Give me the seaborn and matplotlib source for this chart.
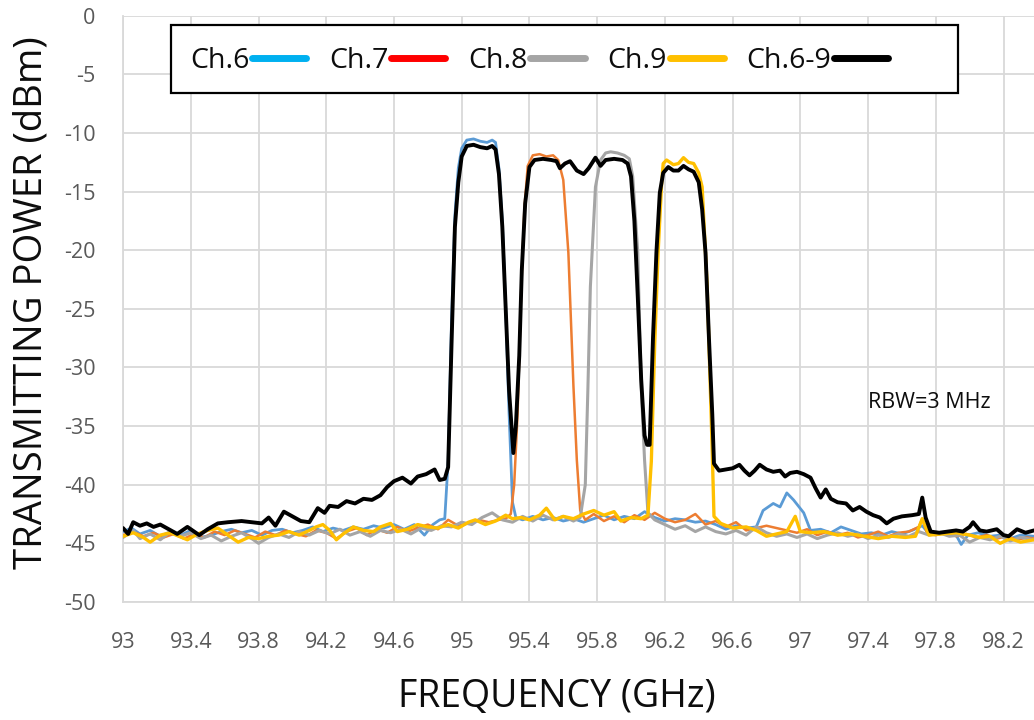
import matplotlib
matplotlib.use("Agg")
import matplotlib.pyplot as plt
from matplotlib.lines import Line2D
from matplotlib.patches import Rectangle
import seaborn as sns
import pandas as pd

# ---- spectrum traces (frequency in GHz, power in dBm) ----
ch6_freq = [93.00, 93.05, 93.10, 93.16, 93.22, 93.28, 93.34, 93.40, 93.46, 93.52, 93.58, 93.64,
            93.70, 93.76, 93.82, 93.88, 93.94, 94.00, 94.06, 94.12, 94.18, 94.24, 94.30, 94.36,
            94.42, 94.48, 94.54, 94.60, 94.66, 94.72, 94.78, 94.83, 94.87, 94.90, 94.92, 94.94,
            94.96, 94.98, 95.00, 95.03, 95.07, 95.11, 95.15, 95.18, 95.20, 95.22, 95.24, 95.26,
            95.28, 95.30, 95.32, 95.36, 95.42, 95.48, 95.54, 95.60, 95.66, 95.72, 95.78, 95.84,
            95.90, 95.96, 96.02, 96.08, 96.14, 96.20, 96.26, 96.32, 96.38, 96.44, 96.50, 96.56,
            96.62, 96.68, 96.74, 96.78, 96.84, 96.88, 96.92, 96.96, 97.02, 97.06, 97.12, 97.18,
            97.24, 97.30, 97.36, 97.42, 97.48, 97.54, 97.60, 97.66, 97.72, 97.76, 97.82, 97.88,
            97.92, 97.95, 97.99, 98.05, 98.12, 98.18, 98.24, 98.30, 98.38]
ch6_power = [-44.0, -43.7, -44.2, -43.9, -44.4, -44.0, -44.3, -43.9, -44.5, -44.3, -44.0, -43.8,
             -44.1, -43.9, -44.3, -43.9, -43.8, -44.1, -43.9, -43.6, -44.0, -43.7, -43.9, -43.6,
             -43.8, -43.5, -43.7, -43.4, -43.8, -43.4, -44.3, -43.4, -43.0, -42.9, -38.0, -26.0,
             -17.0, -13.0, -11.3, -10.6, -10.5, -10.7, -10.8, -10.6, -10.8, -13.0, -17.5, -25.0,
             -34.0, -41.5, -42.8, -43.0, -42.7, -43.0, -42.8, -43.1, -42.9, -43.2, -42.9, -42.6,
             -43.0, -42.7, -42.9, -42.3, -42.8, -43.1, -42.9, -43.0, -43.2, -43.1, -43.4, -43.8,
             -43.5, -43.7, -43.6, -42.2, -41.6, -41.9, -40.7, -41.3, -42.4, -43.9, -43.8, -44.1,
             -43.6, -43.9, -44.2, -44.1, -44.3, -44.0, -44.2, -43.9, -43.5, -44.2, -44.1, -44.0,
             -44.3, -45.1, -44.3, -44.1, -44.4, -44.3, -44.6, -44.3, -44.4]

ch7_freq = [93.00, 93.06, 93.12, 93.18, 93.24, 93.30, 93.36, 93.42, 93.48, 93.54, 93.60, 93.66,
            93.72, 93.78, 93.84, 93.90, 93.96, 94.02, 94.08, 94.14, 94.20, 94.26, 94.32, 94.38,
            94.44, 94.50, 94.56, 94.62, 94.68, 94.74, 94.80, 94.86, 94.92, 94.98, 95.04, 95.10,
            95.16, 95.22, 95.26, 95.29, 95.31, 95.33, 95.35, 95.37, 95.39, 95.42, 95.46, 95.50,
            95.54, 95.57, 95.60, 95.63, 95.66, 95.68, 95.70, 95.73, 95.78, 95.84, 95.90, 95.96,
            96.02, 96.08, 96.14, 96.20, 96.26, 96.32, 96.38, 96.44, 96.50, 96.56, 96.62, 96.68,
            96.74, 96.80, 96.86, 96.92, 96.98, 97.04, 97.10, 97.16, 97.22, 97.28, 97.34, 97.40,
            97.46, 97.52, 97.58, 97.64, 97.70, 97.72, 97.75, 97.80, 97.86, 97.92, 97.98, 98.04,
            98.10, 98.16, 98.22, 98.28, 98.34, 98.38]
ch7_power = [-44.3, -44.0, -44.4, -44.1, -44.5, -44.2, -44.6, -44.2, -44.5, -44.0, -44.3, -43.9,
             -44.2, -44.5, -44.0, -44.3, -43.9, -44.2, -44.4, -43.9, -44.1, -44.6, -44.0, -43.7,
             -44.3, -43.8, -44.1, -43.6, -44.0, -43.7, -43.4, -43.8, -43.0, -43.5, -43.3, -43.0,
             -43.2, -43.0, -42.9, -42.5, -40.0, -34.0, -24.0, -16.5, -12.8, -11.9, -11.8, -12.0,
             -11.9, -12.3, -14.0, -20.2, -31.6, -37.9, -42.2, -43.0, -42.5, -43.1, -42.7, -43.2,
             -42.6, -43.0, -42.4, -42.9, -43.2, -43.0, -42.5, -43.4, -43.1, -43.6, -43.2, -43.9,
             -43.7, -43.5, -43.7, -43.9, -44.1, -43.8, -44.3, -44.0, -44.3, -44.1, -44.5, -44.3,
             -44.0, -44.4, -44.1, -44.0, -43.6, -42.9, -44.2, -44.3, -44.1, -44.4, -44.2, -44.5,
             -44.3, -44.6, -44.4, -44.7, -44.5, -44.6]

ch8_freq = [93.00, 93.06, 93.10, 93.16, 93.22, 93.28, 93.34, 93.40, 93.46, 93.52, 93.58, 93.64,
            93.70, 93.76, 93.80, 93.86, 93.92, 93.98, 94.04, 94.10, 94.16, 94.22, 94.28, 94.34,
            94.40, 94.46, 94.52, 94.58, 94.64, 94.70, 94.76, 94.82, 94.88, 94.94, 95.00, 95.06,
            95.12, 95.18, 95.24, 95.30, 95.36, 95.42, 95.48, 95.54, 95.60, 95.66, 95.70, 95.73,
            95.745, 95.76, 95.79, 95.82, 95.85, 95.88, 95.92, 95.96, 95.99, 96.01, 96.04, 96.06,
            96.08, 96.10, 96.14, 96.20, 96.26, 96.32, 96.38, 96.44, 96.50, 96.56, 96.62, 96.68,
            96.74, 96.80, 96.86, 96.92, 96.98, 97.04, 97.10, 97.16, 97.22, 97.28, 97.34, 97.40,
            97.46, 97.52, 97.58, 97.64, 97.70, 97.76, 97.82, 97.88, 97.94, 98.00, 98.06, 98.12,
            98.18, 98.24, 98.30, 98.38]
ch8_power = [-44.5, -43.9, -44.6, -44.2, -44.7, -44.0, -44.4, -44.1, -44.6, -44.3, -44.8, -44.4,
             -44.1, -44.6, -45.0, -44.5, -44.2, -44.5, -44.0, -44.3, -43.9, -44.2, -43.8, -44.3,
             -44.0, -44.4, -43.9, -44.1, -43.8, -44.2, -43.7, -43.9, -43.5, -43.6, -43.2, -43.4,
             -42.8, -42.4, -43.0, -43.2, -42.7, -43.1, -42.6, -43.0, -42.7, -43.1, -42.8, -40.0,
             -32.0, -23.1, -14.6, -12.3, -11.7, -11.6, -11.7, -11.9, -12.2, -13.7, -20.2, -31.6,
             -37.9, -42.4, -43.0, -43.4, -43.8, -43.5, -44.0, -43.6, -44.0, -44.2, -43.9, -44.3,
             -43.6, -44.1, -44.4, -44.2, -44.5, -44.2, -44.6, -44.3, -44.1, -44.4, -44.2, -44.6,
             -44.3, -44.5, -44.2, -44.4, -44.0, -44.3, -44.1, -44.4, -44.3, -44.9, -44.5, -44.7,
             -44.4, -44.8, -44.5, -44.7]

ch9_freq = [93.00, 93.06, 93.12, 93.16, 93.22, 93.28, 93.33, 93.38, 93.44, 93.50, 93.56, 93.62,
            93.68, 93.74, 93.80, 93.86, 93.92, 93.98, 94.04, 94.10, 94.14, 94.18, 94.22, 94.26,
            94.30, 94.36, 94.42, 94.48, 94.52, 94.58, 94.62, 94.68, 94.74, 94.80, 94.86, 94.92,
            94.98, 95.04, 95.08, 95.14, 95.20, 95.26, 95.30, 95.35, 95.40, 95.46, 95.50, 95.55,
            95.60, 95.66, 95.72, 95.78, 95.84, 95.90, 95.94, 96.00, 96.06, 96.10, 96.12, 96.14,
            96.16, 96.18, 96.19, 96.21, 96.25, 96.28, 96.31, 96.34, 96.37, 96.40, 96.42, 96.45,
            96.48, 96.49, 96.53, 96.60, 96.68, 96.74, 96.80, 96.86, 96.92, 96.97, 97.00, 97.06,
            97.14, 97.22, 97.30, 97.38, 97.46, 97.54, 97.62, 97.68, 97.72, 97.76, 97.84, 97.92,
            98.00, 98.06, 98.12, 98.18, 98.24, 98.30, 98.38]
ch9_power = [-44.4, -44.1, -44.5, -44.9, -44.3, -44.1, -44.4, -44.7, -44.2, -43.9, -43.7, -44.3,
             -44.9, -44.5, -44.6, -44.4, -44.3, -44.0, -44.3, -43.9, -43.6, -43.4, -43.9, -44.7,
             -44.2, -43.6, -43.9, -44.0, -43.6, -43.3, -44.0, -43.8, -43.4, -43.6, -43.7, -43.4,
             -43.7, -43.2, -43.0, -43.4, -43.1, -42.6, -42.9, -42.8, -43.0, -42.6, -42.0, -43.0,
             -42.7, -42.9, -42.5, -42.2, -42.6, -42.3, -43.1, -42.8, -42.9, -42.6, -38.0, -28.0,
             -20.2, -14.5, -12.6, -12.3, -12.7, -12.6, -12.1, -12.5, -12.6, -13.4, -14.6, -23.1,
             -37.3, -42.7, -43.3, -43.7, -43.6, -43.9, -44.4, -44.2, -44.0, -42.7, -44.0, -44.1,
             -44.0, -44.3, -44.2, -44.4, -44.6, -44.4, -44.5, -44.4, -42.9, -44.3, -44.2, -44.1,
             -44.3, -44.5, -44.4, -45.0, -44.6, -44.9, -44.7]

all_freq = [93.00, 93.03, 93.06, 93.10, 93.14, 93.18, 93.22, 93.27, 93.32, 93.38, 93.45, 93.50,
            93.56, 93.62, 93.70, 93.76, 93.82, 93.86, 93.90, 93.95, 94.00, 94.05, 94.10, 94.15,
            94.19, 94.22, 94.27, 94.32, 94.37, 94.42, 94.47, 94.52, 94.56, 94.60, 94.65, 94.70,
            94.74, 94.79, 94.84, 94.87, 94.90, 94.92, 94.94, 94.96, 94.98, 95.00, 95.03, 95.07,
            95.11, 95.15, 95.18, 95.20, 95.22, 95.24, 95.26, 95.28, 95.305, 95.32, 95.34, 95.355,
            95.375, 95.40, 95.43, 95.48, 95.53, 95.56, 95.58, 95.61, 95.64, 95.68, 95.72, 95.75,
            95.79, 95.82, 95.85, 95.90, 95.95, 95.98, 96.00, 96.02, 96.04, 96.06, 96.08, 96.095,
            96.11, 96.13, 96.15, 96.17, 96.19, 96.22, 96.25, 96.28, 96.31, 96.34, 96.37, 96.40,
            96.42, 96.44, 96.46, 96.48, 96.49, 96.52, 96.56, 96.60, 96.64, 96.67, 96.70, 96.73,
            96.76, 96.80, 96.84, 96.88, 96.91, 96.94, 96.98, 97.02, 97.06, 97.09, 97.12, 97.15,
            97.18, 97.22, 97.27, 97.31, 97.35, 97.39, 97.43, 97.47, 97.51, 97.55, 97.60, 97.66,
            97.70, 97.72, 97.74, 97.77, 97.82, 97.87, 97.92, 97.96, 98.00, 98.02, 98.06, 98.10,
            98.16, 98.20, 98.23, 98.28, 98.33, 98.38]
all_power = [-43.7, -44.2, -43.2, -43.5, -43.3, -43.6, -43.4, -43.8, -44.2, -43.6, -44.3, -43.8,
             -43.3, -43.2, -43.1, -43.2, -43.3, -42.8, -43.5, -42.3, -42.7, -43.1, -43.2, -42.0,
             -42.4, -41.8, -41.9, -41.4, -41.6, -41.2, -41.3, -40.9, -40.2, -39.7, -39.4, -39.9,
             -39.3, -39.1, -38.7, -39.6, -39.5, -38.5, -28.0, -18.0, -14.2, -12.0, -11.1, -11.0,
             -11.2, -11.3, -11.1, -11.4, -13.5, -18.0, -25.0, -32.0, -37.3, -35.0, -29.0, -21.7,
             -16.0, -12.9, -12.3, -12.2, -12.3, -12.4, -13.0, -12.6, -12.4, -13.2, -13.5, -13.0,
             -12.1, -12.8, -12.3, -12.2, -12.3, -12.6, -13.7, -17.5, -24.0, -31.0, -35.8, -36.6,
             -36.6, -27.4, -20.2, -15.1, -13.4, -12.9, -13.2, -13.2, -12.8, -13.1, -13.3, -14.2,
             -16.5, -20.2, -27.4, -34.0, -38.2, -38.8, -38.7, -38.6, -38.3, -38.8, -39.2, -38.8,
             -38.3, -38.7, -38.9, -38.8, -39.3, -39.0, -38.9, -39.1, -39.4, -40.3, -41.1, -40.4,
             -41.2, -41.5, -41.6, -42.2, -41.9, -42.3, -42.6, -42.8, -43.3, -42.9, -42.7, -42.6,
             -42.5, -41.1, -42.8, -44.0, -44.1, -44.0, -43.9, -44.0, -43.6, -43.2, -43.9, -44.0,
             -43.8, -44.3, -44.4, -43.8, -44.1, -43.9]

series_names = ["Ch.6", "Ch.7", "Ch.8", "Ch.9", "Ch.6-9"]
trace_colors = ["#5B9BD5", "#ED7D31", "#A5A5A5", "#FFC000", "#000000"]
legend_colors = ["#00B0F0", "#FF0000", "#A5A5A5", "#FFC000", "#000000"]
trace_widths = [2.0, 1.8, 2.2, 2.4, 2.8]

x_ticks = [93.0, 93.4, 93.8, 94.2, 94.6, 95.0, 95.4, 95.8, 96.2, 96.6, 97.0, 97.4, 97.8, 98.2]
x_tick_labels = ["93", "93.4", "93.8", "94.2", "94.6", "95", "95.4", "95.8", "96.2", "96.6",
                 "97", "97.4", "97.8", "98.2"]
y_ticks = [0, -5, -10, -15, -20, -25, -30, -35, -40, -45, -50]

traces = [
    pd.DataFrame({"freq": ch6_freq, "power": ch6_power}),
    pd.DataFrame({"freq": ch7_freq, "power": ch7_power}),
    pd.DataFrame({"freq": ch8_freq, "power": ch8_power}),
    pd.DataFrame({"freq": ch9_freq, "power": ch9_power}),
    pd.DataFrame({"freq": all_freq, "power": all_power}),
]

sns.set_theme(style="white")
plt.rcParams["font.family"] = ["Open Sans", "DejaVu Sans"]

fig = plt.figure(figsize=(10.34, 7.2), dpi=100)
ax = fig.add_axes([0.119, 0.164, 0.881, 0.814])

for df, name, col, lw in zip(traces, series_names, trace_colors, trace_widths):
    sns.lineplot(data=df, x="freq", y="power", ax=ax, color=col, linewidth=lw,
                 sort=False, estimator=None, legend=False, zorder=3)

ax.set_xlim(93.0, 98.38)
ax.set_ylim(-50, 0)
ax.set_xticks(x_ticks)
ax.set_xticklabels(x_tick_labels)
ax.set_yticks(y_ticks)
ax.set_yticklabels([str(v) for v in y_ticks])
ax.tick_params(axis="both", length=0, labelsize=15.5, labelcolor="#595959")
ax.tick_params(axis="x", pad=22)
ax.tick_params(axis="y", pad=20)
ax.set_xlabel("")
ax.set_ylabel("")

ax.grid(True, color="#D9D9D9", linewidth=1.3, zorder=0)
ax.set_axisbelow(True)
for side in ["top", "right"]:
    ax.spines[side].set_visible(False)
for side in ["left", "bottom"]:
    ax.spines[side].set_color("#D9D9D9")
    ax.spines[side].set_linewidth(1.3)

fig.text(557 / 1034, 1 - 697 / 720, "FREQUENCY (GHz)", ha="center", va="center",
         fontsize=27, color="#0D0D0D")
fig.text(32 / 1034, 1 - 303 / 720, "TRANSMITTING POWER (dBm)", ha="center", va="center",
         rotation=90, fontsize=27.5, color="#0D0D0D")

ax.text(97.40, -33.0, "RBW=3 MHz", fontsize=15.5, color="#0D0D0D", ha="left", va="center")

# boxed legend across the top
box = Rectangle((171 / 1034, 1 - 93 / 720), (958 - 171) / 1034, (93 - 25) / 720,
                transform=fig.transFigure, facecolor="white", edgecolor="black",
                linewidth=1.6, zorder=4, clip_on=False)
ax.add_patch(box)
handles = [Line2D([0], [0], color=c, linewidth=5) for c in legend_colors]
leg = ax.legend(handles, series_names, loc="center left",
                bbox_to_anchor=(190 / 1034, 1 - 61 / 720), bbox_transform=fig.transFigure,
                ncol=5, frameon=False, markerfirst=False, fontsize=20.5,
                handlelength=1.9, handletextpad=0.1, columnspacing=0.8,
                borderpad=0, borderaxespad=0)
for t in leg.get_texts():
    t.set_color("#0D0D0D")
leg.set_zorder(5)

fig.savefig("out.png", dpi=100)
